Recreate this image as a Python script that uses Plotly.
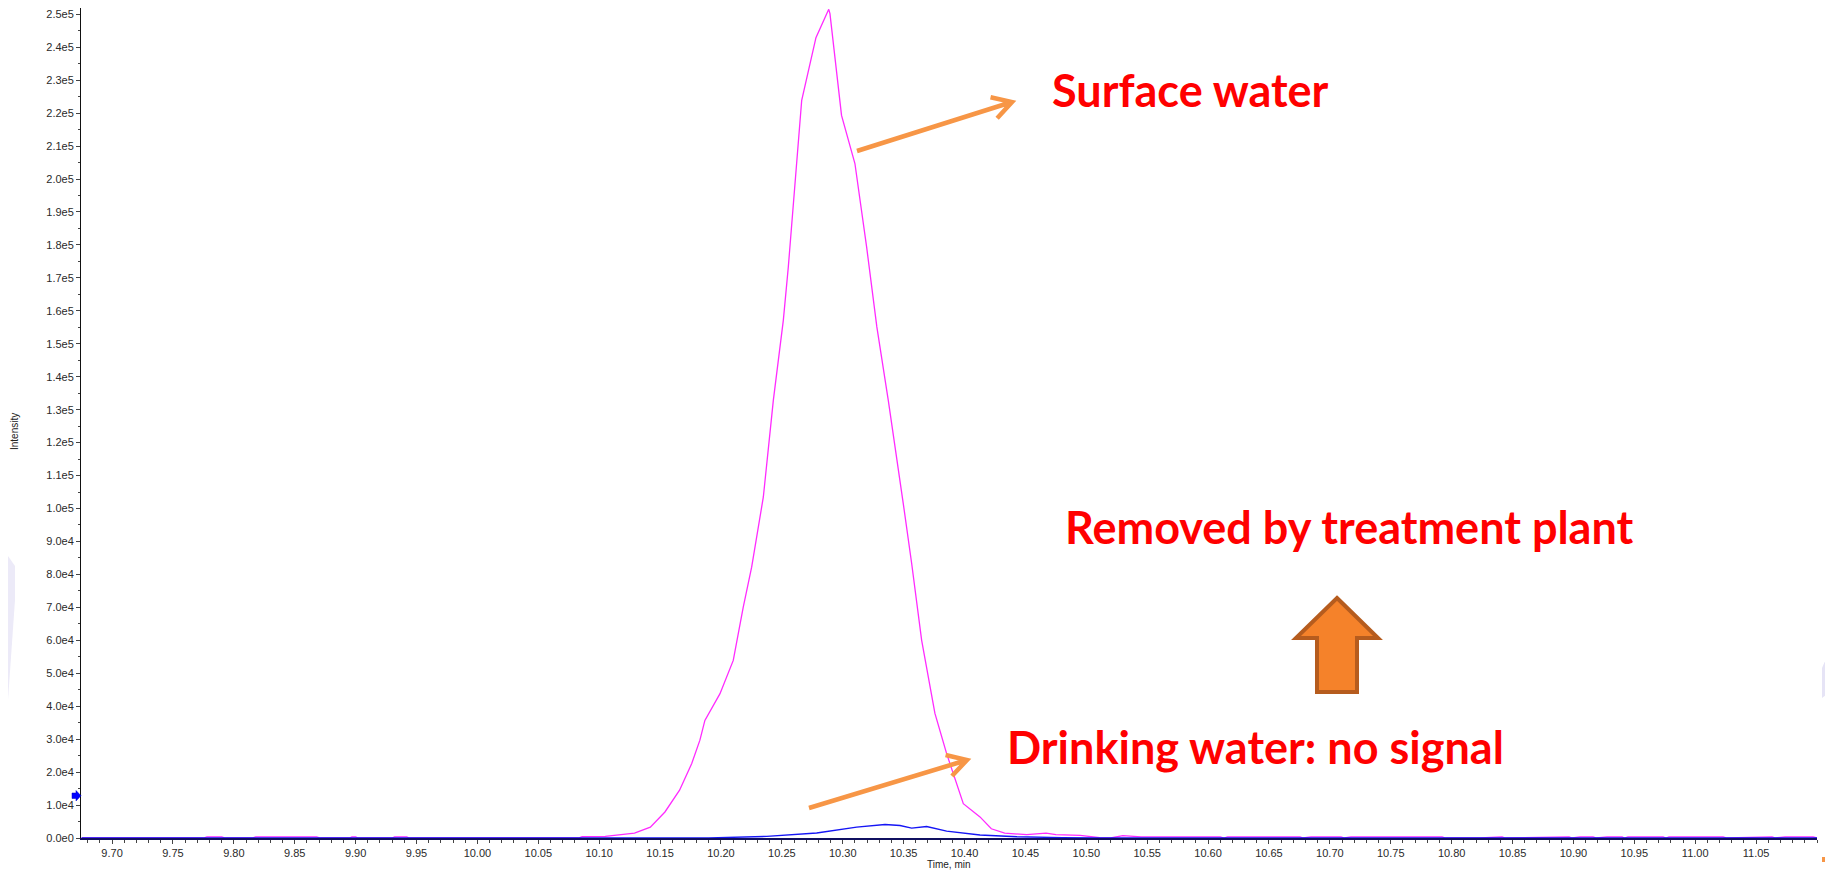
import math
import plotly.graph_objects as go

# ---------------- data ----------------
surface_time = [9.675, 9.775, 9.778, 9.790, 9.793, 9.815, 9.818, 9.868, 9.871, 9.895, 9.897, 9.900,
                9.902, 9.930, 9.932, 9.942, 9.944, 10.083, 10.086, 10.105, 10.129, 10.142, 10.154,
                10.166, 10.176, 10.1827, 10.1868, 10.1992, 10.2101, 10.2183, 10.2252, 10.2320,
                10.2348, 10.2430, 10.2470, 10.2512, 10.2553, 10.2595, 10.2635, 10.2663, 10.2780,
                10.2885, 10.2895, 10.2990, 10.3100, 10.3196, 10.3280, 10.3374, 10.3497, 10.3566,
                10.3648, 10.3757, 10.3853, 10.3990, 10.4127, 10.422, 10.433, 10.451, 10.467,
                10.475, 10.495, 10.511, 10.520, 10.530, 10.545, 10.560, 10.610, 10.613, 10.616,
                10.6755, 10.678, 10.6845, 10.7091, 10.712, 10.7173, 10.7921, 10.795, 10.8233,
                10.8414, 10.844, 10.8775, 10.8964, 10.899, 10.9054, 10.9161, 10.919, 10.9276,
                10.9399, 10.942, 10.9448, 10.9736, 10.976, 10.9785, 11.0229, 11.026, 11.0516,
                11.0631, 11.066, 11.0738, 11.0968, 11.10]
surface_intensity = [0, 0, 350, 350, 0, 0, 350, 350, 0, 0, 350, 350,
                     0, 0, 350, 350, 0, 0, 400, 500, 1500, 3300, 7900,
                     14500, 22600, 29700, 35700, 43800, 53900, 70100, 82200, 97400,
                     103500, 132800, 145000, 157100, 173300, 193500, 211700, 223900, 242900,
                     251500, 250200, 219300, 204700, 179400, 155100, 132800, 101500, 83300,
                     60000, 37800, 25600, 10400, 6400, 2800, 1500, 1000, 1500,
                     1000, 800, 100, 0, 700, 350, 350, 350, 0, 350,
                     350, 0, 350, 350, 0, 350, 350, 0, 0,
                     350, 0, 350, 350, 0, 350, 350, 0, 350,
                     350, 0, 350, 350, 0, 350, 350, 0, 350,
                     350, 0, 350, 350, 0]

drinking_time = [9.675, 10.190, 10.2376, 10.2786, 10.3114, 10.3347, 10.347, 10.3566, 10.3689,
                 10.3853, 10.4127, 10.443, 10.480, 10.510, 11.10]
drinking_intensity = [0, 0, 500, 1500, 3300, 4100, 3800, 3000, 3500,
                      2100, 900, 400, 100, 0, 0]

y_tick_values = [0, 10000, 20000, 30000, 40000, 50000, 60000, 70000, 80000, 90000, 100000,
                 110000, 120000, 130000, 140000, 150000, 160000, 170000, 180000, 190000,
                 200000, 210000, 220000, 230000, 240000, 250000]
y_tick_labels = ["0.0e0", "1.0e4", "2.0e4", "3.0e4", "4.0e4", "5.0e4", "6.0e4", "7.0e4", "8.0e4",
                 "9.0e4", "1.0e5", "1.1e5", "1.2e5", "1.3e5", "1.4e5", "1.5e5", "1.6e5", "1.7e5",
                 "1.8e5", "1.9e5", "2.0e5", "2.1e5", "2.2e5", "2.3e5", "2.4e5", "2.5e5"]
x_tick_values = [9.70, 9.75, 9.80, 9.85, 9.90, 9.95, 10.00, 10.05, 10.10, 10.15, 10.20, 10.25,
                 10.30, 10.35, 10.40, 10.45, 10.50, 10.55, 10.60, 10.65, 10.70, 10.75, 10.80,
                 10.85, 10.90, 10.95, 11.00, 11.05]
x_tick_labels = ["9.70", "9.75", "9.80", "9.85", "9.90", "9.95", "10.00", "10.05", "10.10",
                 "10.15", "10.20", "10.25", "10.30", "10.35", "10.40", "10.45", "10.50", "10.55",
                 "10.60", "10.65", "10.70", "10.75", "10.80", "10.85", "10.90", "10.95", "11.00",
                 "11.05"]

label_surface = "Surface water"
label_removed = "Removed by treatment plant"
label_drinking = "Drinking water: no signal"

# ---------------- layout geometry ----------------
# the page body has an 8px margin, so the figure is 8px smaller than the window
OFF = 8
W, H = 1833 - OFF, 871 - OFF
ML, MR, MT, MB = 81 - OFF, 16, 8 - OFF, 33
PW = W - ML - MR
PH = H - MT - MB


def P(X, Y):
    """page pixel -> paper coords"""
    return (X - OFF - ML) / PW, (H - MB - (Y - OFF)) / PH


def path(points, close=False):
    s = ""
    for i, (X, Y) in enumerate(points):
        px, py = P(X, Y)
        s += ("M" if i == 0 else "L") + f"{px:.5f},{py:.5f} "
    if close:
        s += "Z"
    return s


def arrow_path(x0, y0, x1, y1, arm=22, ang=30):
    dx, dy = x0 - x1, y0 - y1
    L = math.hypot(dx, dy)
    ux, uy = dx / L, dy / L
    pts = []
    for a in (ang, -ang):
        r = math.radians(a)
        vx = ux * math.cos(r) - uy * math.sin(r)
        vy = ux * math.sin(r) + uy * math.cos(r)
        pts.append((x1 + vx * arm, y1 + vy * arm))
    return path([(x0, y0), (x1, y1)]) + path([pts[0], (x1, y1), pts[1]])


fig = go.Figure()
fig.add_trace(go.Scatter(x=surface_time, y=surface_intensity, mode="lines",
                         line=dict(color="#FF2BFF", width=1.3), hoverinfo="skip"))
fig.add_trace(go.Scatter(x=drinking_time, y=drinking_intensity, mode="lines",
                         line=dict(color="#1515F5", width=1.4), hoverinfo="skip"))

orange = "#F79646"
shapes = [
    # faint background watermark pieces
    dict(type="path", xref="paper", yref="paper", layer="below",
         path=path([(8, 556), (15, 566), (15, 600), (8, 700)], close=True),
         fillcolor="#ECEAF8", line=dict(width=0)),
    dict(type="path", xref="paper", yref="paper", layer="below",
         path=path([(1833, 643), (1822, 668), (1822, 698), (1833, 690)], close=True),
         fillcolor="#E6E4F6", line=dict(width=0)),
    # arrows
    dict(type="path", xref="paper", yref="paper",
         path=arrow_path(857, 151, 1012, 102), line=dict(color=orange, width=4.5)),
    dict(type="path", xref="paper", yref="paper",
         path=arrow_path(809, 808, 967, 760), line=dict(color=orange, width=4.5)),
    # big up arrow
    dict(type="path", xref="paper", yref="paper",
         path=path([(1337, 598), (1378, 638), (1357, 638), (1357, 692), (1317, 692),
                    (1317, 638), (1296, 638)], close=True),
         fillcolor="#F5822A", line=dict(color="#B65C1E", width=4)),
    # small blue marker on y axis
    dict(type="path", xref="paper", yref="paper",
         path=path([(72, 793), (76, 793), (76, 790.5), (81, 795.7), (76, 801), (76, 798.5),
                    (72, 798.5)], close=True),
         fillcolor="#0000FF", line=dict(color="#0000CC", width=0.5)),
    # small orange mark bottom right
    dict(type="path", xref="paper", yref="paper",
         path=path([(1822, 857), (1829, 857), (1829, 862), (1822, 862)], close=True),
         fillcolor=orange, line=dict(width=0)),
]

txt_font = dict(family="Lato, 'Open Sans', sans-serif", size=45, color="#FF0000")
annotations = []
for label, X, Y in [(label_surface, 1050, 90), (label_removed, 1063, 527),
                    (label_drinking, 1005, 747)]:
    px, py = P(X, Y)
    annotations.append(dict(text=f"<b>{label}</b>", x=px, y=py, xref="paper", yref="paper",
                            xanchor="left", yanchor="middle", showarrow=False, font=txt_font))
# axis titles
tx, ty = P(949, 864)
annotations.append(dict(text="Time, min", x=tx, y=ty, xref="paper", yref="paper",
                        showarrow=False, xanchor="center", yanchor="middle",
                        font=dict(family="Liberation Sans, Arial", size=10, color="#222")))
ix, iy = P(14, 432)
annotations.append(dict(text="Intensity", x=ix, y=iy, xref="paper", yref="paper",
                        showarrow=False, xanchor="center", yanchor="middle", textangle=-90,
                        font=dict(family="Liberation Sans, Arial", size=10, color="#222")))

tick_font = dict(family="Liberation Sans, Arial", size=11, color="#2a2a2a")
fig.update_layout(
    width=W, height=H, margin=dict(l=ML, r=MR, t=MT, b=MB, pad=0),
    paper_bgcolor="white", plot_bgcolor="white", showlegend=False,
    shapes=shapes, annotations=annotations,
    xaxis=dict(range=[9.6745, 11.10], tickvals=x_tick_values, ticktext=x_tick_labels,
               showgrid=False, zeroline=False, showline=True, linecolor="#101060", linewidth=2,
               ticks="outside", ticklen=4, tickcolor="#444", tickfont=tick_font,
               minor=dict(ticks="outside", ticklen=3, dtick=0.01, tick0=9.70, tickcolor="#444",
                          showgrid=False)),
    yaxis=dict(range=[0, 251900], tickvals=y_tick_values, ticktext=y_tick_labels,
               showgrid=False, zeroline=False, showline=True, linecolor="#111", linewidth=1,
               ticks="outside", ticklen=4, tickcolor="#444", tickfont=tick_font,
               minor=dict(ticks="outside", ticklen=2, dtick=5000, tick0=0, tickcolor="#444",
                          showgrid=False)),
)

fig.write_html("out.html")
